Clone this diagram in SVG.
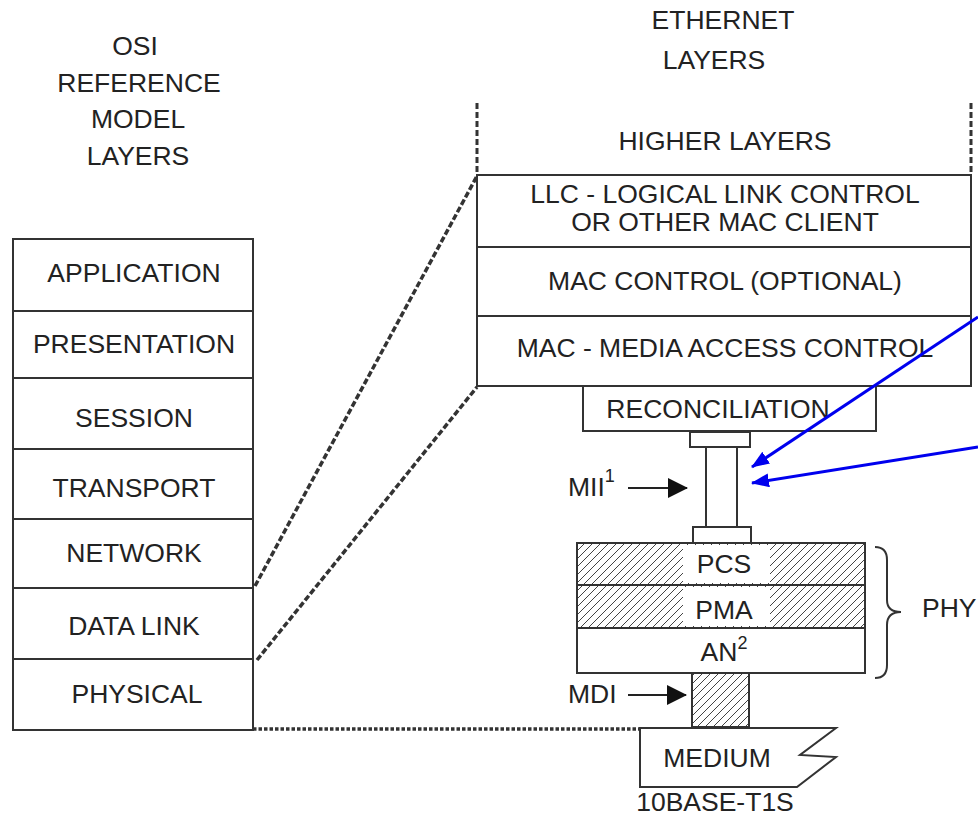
<svg xmlns="http://www.w3.org/2000/svg" width="978" height="816" viewBox="0 0 978 816">
<style>
text{font-family:"Liberation Sans",Arial,sans-serif;font-size:26.5px;fill:#222;}
.m{text-anchor:middle;}
.box{fill:#fff;stroke:#333;stroke-width:2;}
.ln{stroke:#333;stroke-width:2;fill:none;}
.dash{stroke:#333;stroke-width:3.5;fill:none;stroke-dasharray:6 2.5;}
.vdash{stroke:#333;stroke-width:3;fill:none;stroke-dasharray:6 3;}
.dot{stroke:#333;stroke-width:3.5;fill:none;stroke-dasharray:3.5 2;}
.arr{stroke:#222;stroke-width:2;fill:none;marker-end:url(#ah);}
.blue{stroke:#0000ee;stroke-width:3;fill:none;marker-end:url(#bh);}
.hatch{fill:url(#hp);stroke:#333;stroke-width:2;}
</style>
<defs>
<pattern id="hp" patternUnits="userSpaceOnUse" width="8" height="8">
<rect width="8" height="8" fill="#fff"/>
<path d="M0,8 L8,0 M-2,2 L2,-2 M6,10 L10,6" stroke="#444" stroke-width="1"/>
</pattern>
<marker id="ah" markerWidth="20" markerHeight="20" refX="19" refY="10" orient="auto" markerUnits="userSpaceOnUse">
<path d="M0,0 L20,10 L0,20 Z" fill="#111"/>
</marker>
<marker id="bh" markerWidth="18" markerHeight="14" refX="17" refY="7" orient="auto" markerUnits="userSpaceOnUse">
<path d="M0,0 L18,7 L0,14 Z" fill="#0000ee"/>
</marker>
</defs>
<rect width="978" height="816" fill="#fff"/>

<g id="headers">
<text class="m" x="135" y="55">OSI</text>
<text class="m" x="139" y="92">REFERENCE</text>
<text class="m" x="138" y="128">MODEL</text>
<text class="m" x="138" y="165">LAYERS</text>
<text class="m" x="723" y="29">ETHERNET</text>
<text class="m" x="714" y="69">LAYERS</text>
</g>

<g id="osi-stack">
<g id="osi-application"><rect class="box" x="13" y="239" width="240" height="72"/><text class="m" x="134" y="282">APPLICATION</text></g>
<g id="osi-presentation"><rect class="box" x="13" y="311" width="240" height="67"/><text class="m" x="134" y="353">PRESENTATION</text></g>
<g id="osi-session"><rect class="box" x="13" y="378" width="240" height="71"/><text class="m" x="134" y="427">SESSION</text></g>
<g id="osi-transport"><rect class="box" x="13" y="449" width="240" height="70"/><text class="m" x="134" y="497">TRANSPORT</text></g>
<g id="osi-network"><rect class="box" x="13" y="519" width="240" height="69"/><text class="m" x="134" y="562">NETWORK</text></g>
<g id="osi-datalink"><rect class="box" x="13" y="588" width="240" height="71"/><text class="m" x="134" y="635">DATA LINK</text></g>
<g id="osi-physical"><rect class="box" x="13" y="659" width="240" height="71"/><text class="m" x="137" y="703">PHYSICAL</text></g>
</g>

<g id="higher-layers">
<line class="vdash" x1="477" y1="103" x2="477" y2="175"/>
<line class="vdash" x1="971" y1="103" x2="971" y2="175"/>
<text class="m" x="725" y="150">HIGHER LAYERS</text>
</g>
<g id="llc"><rect class="box" x="477" y="175" width="494" height="72"/>
<text class="m" x="725" y="203">LLC - LOGICAL LINK CONTROL</text>
<text class="m" x="725" y="231">OR OTHER MAC CLIENT</text></g>
<g id="mac-control"><rect class="box" x="477" y="247" width="494" height="69"/><text class="m" x="725" y="290">MAC CONTROL (OPTIONAL)</text></g>
<g id="mac"><rect class="box" x="477" y="316" width="494" height="70"/><text class="m" x="725" y="357">MAC - MEDIA ACCESS CONTROL</text></g>
<g id="reconciliation"><rect class="box" x="583" y="386" width="293" height="45"/><text class="m" x="718" y="418">RECONCILIATION</text></g>

<g id="mii">
<rect class="box" x="690" y="432" width="60" height="15"/>
<line class="ln" x1="706" y1="447" x2="706" y2="527"/>
<line class="ln" x1="737" y1="447" x2="737" y2="527"/>
<rect class="box" x="693" y="527" width="58" height="16"/>
<text x="568" y="496">MII<tspan dy="-14" font-size="18">1</tspan></text>
</g>

<g id="pcs"><rect class="hatch" x="577" y="543" width="288" height="42"/><rect x="683" y="545" width="87" height="38" fill="#fff"/><text class="m" x="724" y="573">PCS</text></g>
<g id="pma"><rect class="hatch" x="577" y="585" width="288" height="43"/><rect x="683" y="587" width="87" height="39" fill="#fff"/><text class="m" x="724" y="619">PMA</text></g>
<g id="an"><rect class="box" x="577" y="628" width="288" height="45"/><text class="m" x="724" y="661">AN<tspan dy="-12" font-size="18">2</tspan></text></g>

<g id="phy-brace">
<path class="ln" d="M875,547 Q887,547 887,560 L887,600 Q887,612 901,612 Q887,612 887,625 L887,665 Q887,678 875,678"/>
<text x="922" y="617">PHY</text>
</g>

<g id="mdi">
<rect class="hatch" x="692" y="673" width="57" height="54"/>
<text x="568" y="703">MDI</text>
</g>

<g id="medium">
<path class="box" d="M640,728 L836,728 L800,755 L836,757 L797,787 L640,787 Z"/>
<text class="m" x="717" y="767">MEDIUM</text>
<text class="m" x="715" y="811">10BASE-T1S</text>
</g>

<g id="connectors">
<line class="dash" x1="255" y1="586" x2="477" y2="176"/>
<line class="dash" x1="257" y1="660" x2="477" y2="387"/>
<line class="dot" x1="253" y1="729" x2="640" y2="729"/>
<line class="arr" x1="628" y1="488" x2="687" y2="488"/>
<line class="arr" x1="628" y1="695" x2="686" y2="695"/>
<line class="blue" x1="978" y1="317" x2="752" y2="467"/>
<line class="blue" x1="978" y1="447" x2="752" y2="483"/>
</g>
</svg>
